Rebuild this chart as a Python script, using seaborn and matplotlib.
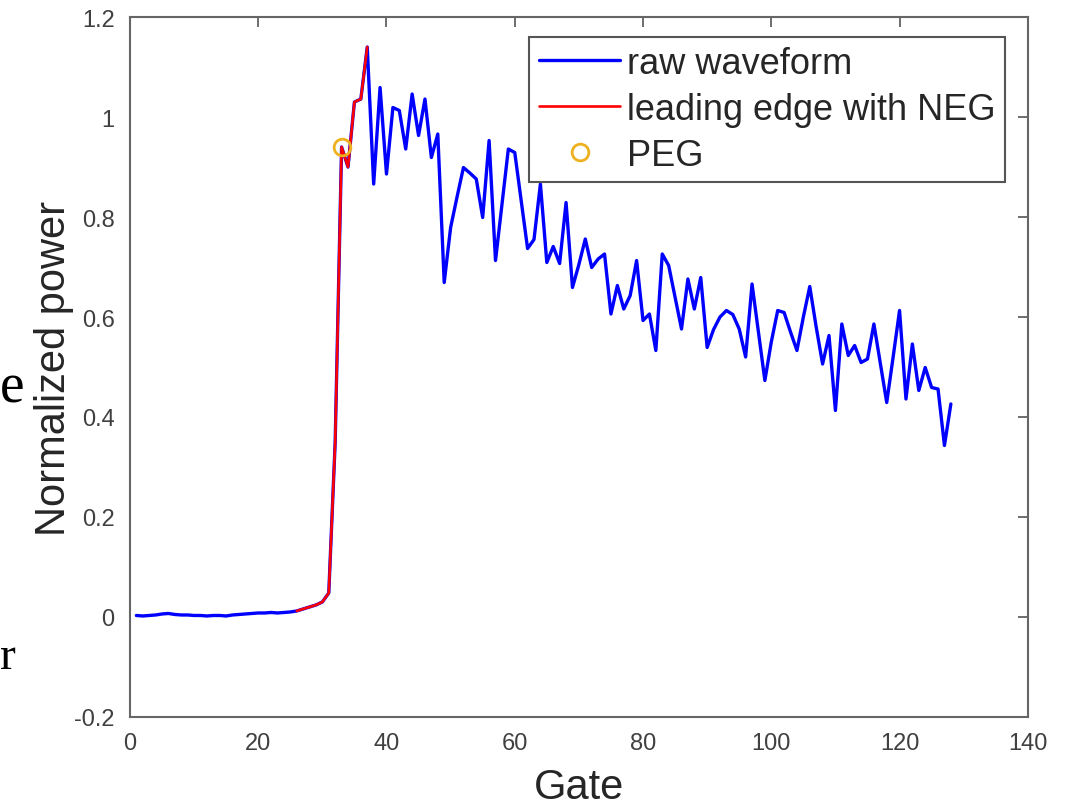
import numpy as np
import pandas as pd
import matplotlib
matplotlib.use("Agg")
import matplotlib.pyplot as plt
import seaborn as sns

# range gate index and normalized waveform power
gates = np.arange(1, 129)
power = [
    0.003, 0.002, 0.003, 0.004, 0.006, 0.007, 0.005, 0.004, 0.004, 0.003,
    0.003, 0.002, 0.003, 0.003, 0.002, 0.004, 0.005, 0.006, 0.007, 0.008,
    0.008, 0.009, 0.008, 0.009, 0.010,
    0.012, 0.016, 0.020, 0.024, 0.030, 0.048, 0.350, 0.940, 0.900, 1.030,
    1.036, 1.140,
    0.866, 1.059, 0.886, 1.019, 1.013, 0.936, 1.046, 0.963, 1.036, 0.919,
    0.966, 0.669,
    0.779, 0.840, 0.899, 0.888, 0.876, 0.799, 0.953, 0.713, 0.825, 0.936,
    0.929,
    0.833, 0.737, 0.755, 0.866, 0.709, 0.741, 0.707, 0.829, 0.659, 0.705,
    0.756, 0.699, 0.716, 0.726, 0.606, 0.663, 0.616, 0.643, 0.713, 0.593,
    0.606, 0.533, 0.726, 0.703, 0.640, 0.576, 0.676, 0.616, 0.679, 0.539,
    0.575, 0.600, 0.613, 0.605, 0.576, 0.520, 0.666, 0.570, 0.473, 0.550,
    0.613, 0.609, 0.570, 0.533, 0.600, 0.661, 0.580, 0.506, 0.563, 0.413,
    0.586, 0.523, 0.543, 0.509, 0.516, 0.586, 0.508, 0.429, 0.520, 0.613,
    0.436, 0.546, 0.453, 0.499, 0.459, 0.456, 0.343, 0.426,
]

# leading edge (NEG) gates and the PEG point
le_start, le_end = 26, 37
peg_gate = [33]
peg_power = [0.94]

xticks = [0, 20, 40, 60, 80, 100, 120, 140]
yticks = [-0.2, 0, 0.2, 0.4, 0.6, 0.8, 1, 1.2]
ytick_labels = ["-0.2", "0", "0.2", "0.4", "0.6", "0.8", "1", "1.2"]

df = pd.DataFrame({"gate": gates, "power": power})
le = df[(df.gate >= le_start) & (df.gate <= le_end)]

sns.set_theme(style="white")
plt.rcParams["font.family"] = ["Liberation Sans", "DejaVu Sans"]

fig = plt.figure(figsize=(10.74, 8.12), dpi=100)
ax = fig.add_axes([0.121, 0.1158, 0.836, 0.862])

sns.lineplot(data=df, x="gate", y="power", color="#0000FF", lw=2.4,
             label="raw waveform", ax=ax)
sns.lineplot(data=le, x="gate", y="power", color="#FF0000", lw=1.9,
             label="leading edge with NEG", ax=ax)
ax.plot(peg_gate, peg_power, ls="none", marker="o", ms=12, mfc="none",
        mec="#EDB120", mew=2, label="PEG")

ax.set_xlim(0, 140)
ax.set_ylim(-0.2, 1.2)
ax.set_xticks(xticks)
ax.set_yticks(yticks)
ax.set_yticklabels(ytick_labels)

ax.set_xlabel("Gate", fontsize=30, color="#262626", labelpad=9)
ax.set_ylabel("Normalized power", fontsize=30, color="#262626", labelpad=0)

ax.tick_params(direction="in", length=7, width=1.2, colors="#555555",
               labelsize=17, labelcolor="#404040", top=True, right=True,
               pad=11)
for s in ax.spines.values():
    s.set_color("#666666")
    s.set_linewidth(1.5)

leg = ax.legend(loc="upper right", bbox_to_anchor=(0.975, 0.972),
                fontsize=26, frameon=True, fancybox=False, framealpha=1,
                edgecolor="#555555", handlelength=2.25, handletextpad=0.2,
                labelspacing=0.3, borderpad=0.26, borderaxespad=0)
leg.get_frame().set_linewidth(1.5)
for t in leg.get_texts():
    t.set_color("#262626")

# fragments of surrounding document text at the left edge
fig.text(0.0, 0.522, "e", fontsize=40, family="Liberation Serif",
         color="black", va="center", ha="left")
fig.text(0.0, 0.19, "r", fontsize=34, family="Liberation Serif",
         color="black", va="center", ha="left")

fig.savefig("out.png", dpi=100)
